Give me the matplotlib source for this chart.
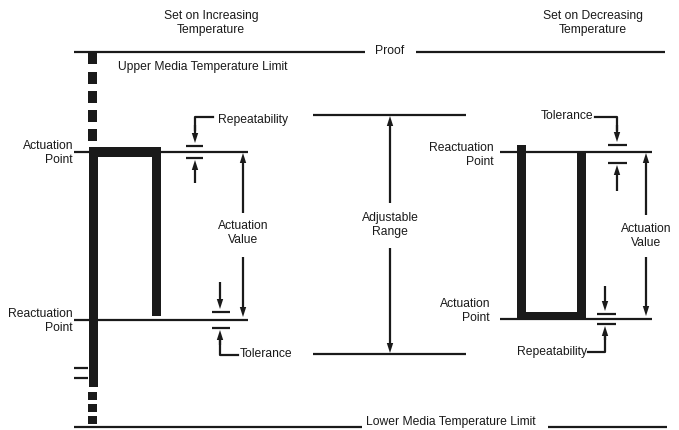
import matplotlib
matplotlib.use("Agg")
import matplotlib.pyplot as plt
from matplotlib.patches import Rectangle, Polygon

plt.rcParams['font.family'] = ['Liberation Sans', 'DejaVu Sans']

W, H = 679, 430
# Diagram levels (pixel rows of the schematic)
y_proof = 52
y_lower = 427
y_range_top = 115
y_range_bot = 354
y_act_inc = 152
y_react_inc = 320
y_react_dec = 152
y_act_dec = 319

titles = ["Set on Increasing\nTemperature", "Set on Decreasing\nTemperature"]
title_x = [211, 593]

fig = plt.figure(figsize=(W / 100, H / 100), dpi=100)
ax = fig.add_axes([0, 0, 1, 1])
ax.set_xlim(0, W)
ax.set_ylim(H, 0)
ax.axis('off')

K = '#1a1a1a'
LW = 1.6
FS = 8.7


def hline(x0, x1, y, lw=LW):
    ax.plot([x0, x1], [y, y], color=K, lw=lw, solid_capstyle='butt')


def vline(x, y0, y1, lw=LW):
    ax.plot([x, x], [y0, y1], color=K, lw=lw, solid_capstyle='butt')


def rect(x0, y0, x1, y1):
    ax.add_patch(Rectangle((x0, y0), x1 - x0, y1 - y0, color=K, lw=0))


def arrow(x, y_from, y_to, hl=10, hw=3.2):
    d = 1 if y_to > y_from else -1
    vline(x, y_from, y_to - d * hl * 0.8)
    ax.add_patch(Polygon([[x - hw, y_to - d * hl], [x + hw, y_to - d * hl], [x, y_to]],
                         closed=True, color=K, lw=0))


def txt(x, y, s, ha='center', va='center'):
    ax.text(x, y, s, ha=ha, va=va, fontsize=FS, color=K, linespacing=1.32)


# Titles
for tx, t in zip(title_x, titles):
    txt(tx, 23, t)

# Proof line
hline(74, 365, y_proof)
txt(390, y_proof - 1, "Proof")
hline(416, 665, y_proof)

# Lower limit line
hline(74, 362, y_lower)
txt(451, y_lower - 5, "Lower Media Temperature Limit")
hline(548, 667, y_lower)

txt(118, 67, "Upper Media Temperature Limit", ha='left')

# Left dashed thick bar
for y0 in [52, 72, 91, 110, 129]:
    rect(88, y0, 97, y0 + 12)
for y0 in [392, 404, 416]:
    rect(88, y0, 97, y0 + 7.5)

# Left (increasing) switch shape
rect(89, 147, 161, 157)
rect(89, 147, 98, 387)
rect(152, 147, 161, 316)
hline(74, 248, y_act_inc)
hline(74, 248, y_react_inc)
hline(74, 88, 368)
hline(74, 88, 378)

txt(73, 153, "Actuation\nPoint", ha='right')
txt(73, 321, "Reactuation\nPoint", ha='right')

# Repeatability callout (top-left)
hline(186, 203, 146)
hline(186, 203, 158)
ax.plot([213, 195, 195], [117, 117, 130], color=K, lw=LW)
arrow(195, 125, 143)
arrow(195, 183, 160)
txt(218, 120, "Repeatability", ha='left')

# Actuation value arrow (left)
arrow(243, 213, 153)
arrow(243, 257, 317)
txt(243, 233, "Actuation\nValue")

# Tolerance callout (left bottom)
arrow(220, 282, 309)
hline(212, 230, 312)
hline(212, 230, 328)
arrow(220, 345, 330)
ax.plot([220, 220, 238], [340, 355, 355], color=K, lw=LW)
txt(240, 354, "Tolerance", ha='left')

# Adjustable range
hline(313, 466, y_range_top)
hline(313, 466, y_range_bot)
arrow(390, 203, 116)
arrow(390, 248, 353)
txt(390, 225, "Adjustable\nRange")

# Right (decreasing) switch shape
hline(500, 652, y_react_dec)
hline(500, 652, y_act_dec)
rect(517, 145, 526, 319)
rect(577, 152, 586, 319)
rect(517, 312, 586, 319)
txt(494, 155, "Reactuation\nPoint", ha='right')
txt(490, 311, "Actuation\nPoint", ha='right')

# Tolerance callout (top-right)
ax.plot([595, 617, 617], [117, 117, 130], color=K, lw=LW)
arrow(617, 125, 142)
hline(608, 627, 145)
hline(608, 627, 163)
arrow(617, 191, 165)
txt(593, 116, "Tolerance", ha='right')

# Actuation value arrow (right)
arrow(646, 215, 153)
arrow(646, 257, 316)
txt(646, 236, "Actuation\nValue")

# Repeatability callout (bottom-right)
arrow(605, 286, 311)
hline(597, 616, 314)
hline(597, 616, 324)
arrow(605, 340, 326)
ax.plot([605, 605, 588], [335, 352, 352], color=K, lw=LW)
txt(587, 352, "Repeatability", ha='right')

fig.savefig("out.png", dpi=100, facecolor='white')
